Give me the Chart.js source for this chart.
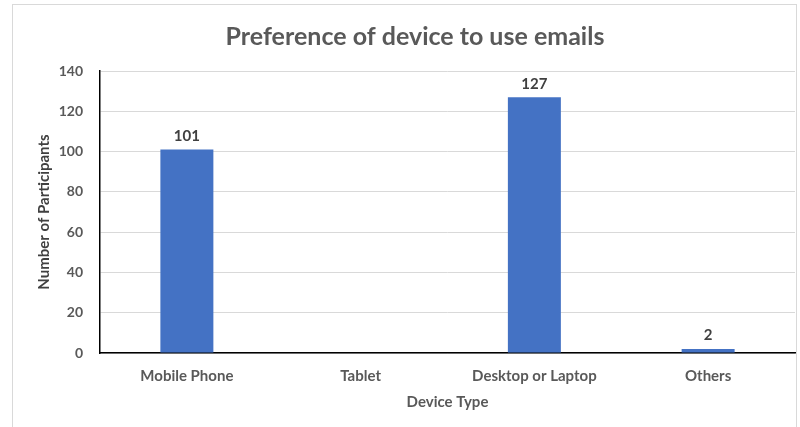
<!DOCTYPE html>
<html>
<head>
<meta charset="utf-8">
<script src="https://cdn.jsdelivr.net/npm/chart.js@4"></script>
<style>
  html, body { margin: 0; padding: 0; background: #fff; }
  #wrap { position: relative; width: 800px; height: 427px; }
  #frame { position: absolute; left: 12px; top: 4px; width: 785px; height: 440px; border: 1px solid #d9d9d9; box-sizing: border-box; }
  canvas { position: absolute; left: 0; top: 0; }
</style>
</head>
<body>
<div id="wrap">
  <div id="frame"></div>
  <canvas id="grafico" width="800" height="427"></canvas>
</div>
<script>
const categorias = ['Mobile Phone', 'Tablet', 'Desktop or Laptop', 'Others'];
const participantes = [101, 0, 127, 2];
const ticksY = [0, 20, 40, 60, 80, 100, 120, 140];

const fonte = "Lato, 'Open Sans', sans-serif";

// rotulos em cima das barras
const rotulos = {
  id: 'rotulos',
  afterDatasetsDraw(chart) {
    const ctx = chart.ctx;
    const meta = chart.getDatasetMeta(0);
    ctx.save();
    ctx.font = 'bold 15px ' + fonte;
    ctx.fillStyle = '#404040';
    ctx.textAlign = 'center';
    ctx.textBaseline = 'bottom';
    meta.data.forEach(function(bar, i) {
      const v = participantes[i];
      if (!v) return;
      ctx.fillText(String(v), bar.x, bar.y - 6);
    });
    ctx.restore();
  }
};

const ctx = document.getElementById('grafico').getContext('2d');

new Chart(ctx, {
  type: 'bar',
  data: {
    labels: categorias,
    datasets: [{
      data: participantes,
      backgroundColor: '#4472C4',
      borderWidth: 0,
      categoryPercentage: 1,
      barPercentage: 0.305
    }]
  },
  options: {
    responsive: false,
    animation: false,
    layout: { padding: { left: 35, right: 5, top: 10, bottom: 16 } },
    plugins: {
      legend: { display: false },
      tooltip: { enabled: false },
      title: {
        display: true,
        text: 'Preference of device to use emails',
        color: '#595959',
        font: { family: fonte, size: 25, weight: 'bold' },
        padding: { top: 12, bottom: 19 }
      }
    },
    scales: {
      x: {
        afterFit(axis) { axis.height = 58; },
        grid: { display: false, drawTicks: false },
        border: { color: '#000', width: 1.5 },
        ticks: { color: '#595959', font: { family: fonte, size: 15, weight: 'bold' }, padding: 14 },
        title: {
          display: true,
          text: 'Device Type',
          color: '#595959',
          font: { family: fonte, size: 15, weight: 'bold' },
          padding: { top: 0, bottom: 0 }
        }
      },
      y: {
        min: 0,
        max: 140,
        afterBuildTicks(axis) {
          axis.ticks = ticksY.map(function(v) { return { value: v }; });
        },
        afterFit(axis) { axis.width = 65; },
        grid: { color: '#d9d9d9', drawTicks: false },
        border: { color: '#000', width: 1.5 },
        ticks: { color: '#595959', font: { family: fonte, size: 14, weight: 'bold' }, padding: 17 },
        title: {
          display: true,
          text: 'Number of Participants',
          color: '#404040',
          font: { family: fonte, size: 15, weight: 'bold' },
          padding: { top: 0, bottom: 0 }
        }
      }
    }
  },
  plugins: [rotulos]
});
</script>
</body>
</html>
